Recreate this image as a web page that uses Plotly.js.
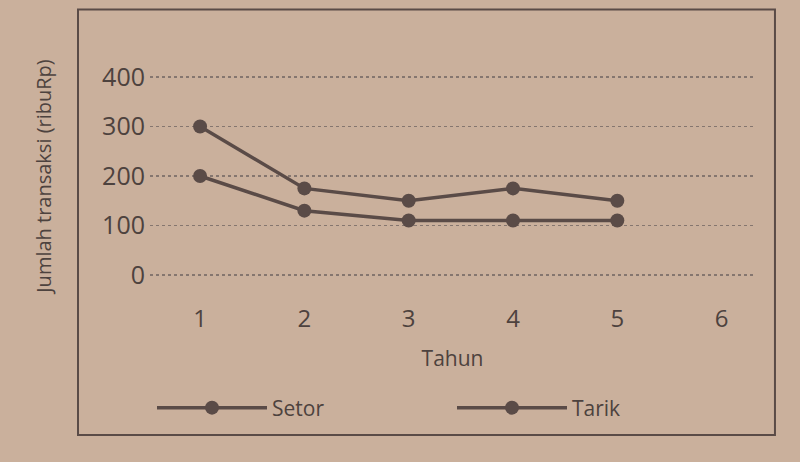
<!DOCTYPE html>
<html>
<head>
<meta charset="utf-8">
<script src="https://cdn.plot.ly/plotly-3.0.1.min.js"></script>
<style>html,body{margin:0;padding:0;background:#cab09c;}#chart{width:800px;height:462px;}</style>
</head>
<body>
<div id="chart"></div>
<script>
const years = [1, 2, 3, 4, 5];
const setor = [300, 175, 150, 175, 150];
const tarik = [200, 130, 110, 110, 110];
const xTicks = [1, 2, 3, 4, 5, 6];
const yTicks = [0, 100, 200, 300, 400];
const seriesNames = ['Setor', 'Tarik'];

const ink = '#5a4b47';
const textInk = '#4d423e';
const font = 'Open Sans, Noto Sans, sans-serif';

function trace(y, name) {
  return {
    x: years, y: y, name: name, type: 'scatter', mode: 'lines+markers',
    line: {color: ink, width: 3.5},
    marker: {color: ink, size: 14, symbol: 'circle'}
  };
}

const data = [trace(setor, seriesNames[0]), trace(tarik, seriesNames[1])];

const layout = {
  width: 800, height: 462,
  margin: {l: 150, r: 45, t: 72, b: 182},
  paper_bgcolor: '#cab09c',
  plot_bgcolor: 'rgba(0,0,0,0)',
  font: {family: font, color: textInk, size: 20},
  showlegend: true,
  legend: {
    orientation: 'h', xref: 'container', yref: 'container',
    x: 0.19, xanchor: 'left', y: (462 - 408) / 462, yanchor: 'middle',
    itemwidth: 110, entrywidth: 175, entrywidthmode: 'pixels',
    font: {family: font, size: 21, color: textInk},
    bgcolor: 'rgba(0,0,0,0)'
  },
  xaxis: {
    range: [0.52, 6.32], tickvals: xTicks, ticktext: xTicks.map(String),
    showgrid: false, zeroline: false, showline: false, ticks: '',
    ticklabelstandoff: 22, automargin: false,
    tickfont: {size: 24, color: textInk},
    title: {text: 'Tahun', font: {size: 21, color: textInk}, standoff: 18}
  },
  yaxis: {
    range: [-10, 410], tickvals: yTicks, ticktext: yTicks.map(String),
    showgrid: true, gridcolor: '#85766f', gridwidth: 1.5, griddash: 'dot',
    zeroline: false, showline: false, ticks: '', automargin: false,
    ticklabelstandoff: 4,
    tickfont: {size: 25, color: textInk},
    title: {text: 'Jumlah transaksi (ribuRp)', font: {size: 20, color: textInk}, standoff: 45}
  },
  shapes: [{
    type: 'rect', xref: 'paper', yref: 'paper',
    x0: -0.119, x1: 1.033, y0: -0.745, y1: 1.30,
    line: {color: ink, width: 2}, fillcolor: 'rgba(0,0,0,0)', layer: 'below'
  }]
};

Plotly.newPlot('chart', data, layout, {displayModeBar: false, staticPlot: true});
</script>
</body>
</html>
